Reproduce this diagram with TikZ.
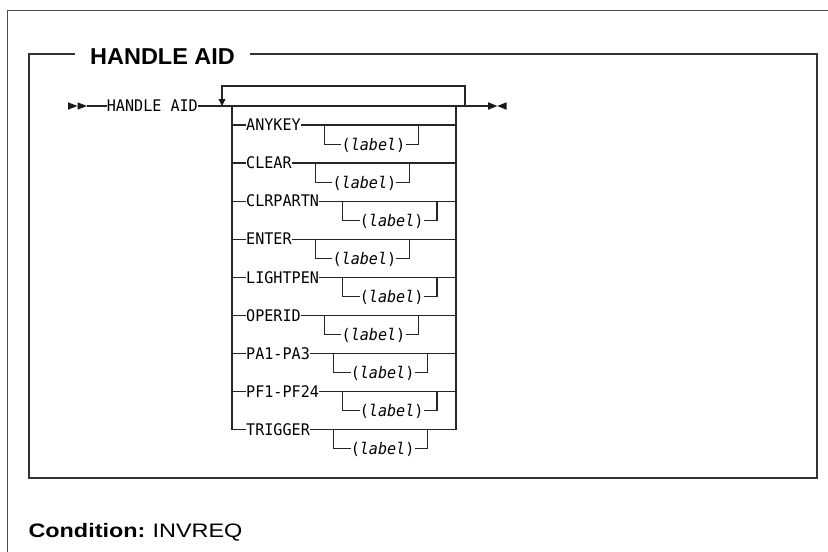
\documentclass[tikz,border=0pt]{standalone}
\usepackage{fontspec}
\setmainfont{Liberation Sans}
\newfontfamily\monofont[FakeStretch=0.944]{DejaVu Sans Mono}
\newfontfamily\titlefont[FakeStretch=1.02]{Liberation Sans}
\newfontfamily\condfont[FakeStretch=1.2]{Liberation Sans}
\usetikzlibrary{calc}
\begin{document}
\begin{tikzpicture}[x=1pt,y=-1pt,
  kw/.style={font=\monofont\fontsize{16}{17}\selectfont, inner sep=0pt, text height=11.6pt, text depth=0pt},
  rr/.style={line width=1.15pt, draw=black!85},
  tri/.style={fill=black!90},
  outerframe/.style={line width=1.5pt, draw=black!70},
  innerframe/.style={line width=2pt, draw=black!80}]
\clip (0,0) rectangle (828,552);
% outer frame
\draw[outerframe] (7.3,560) -- (7.3,10.7) -- (840,10.7);
% title and inner box
\node[anchor=base west, inner sep=0pt, font=\titlefont\bfseries\fontsize{23}{26}\selectfont] (title) at (90,64) {HANDLE AID};
\coordinate (tl) at (75,54);
\coordinate (tr) at (250,54);
\draw[innerframe] (tl) -- (28.5,54) -- (28.5,478) -- (816.7,478) -- (816.7,54) -- (tr);
% condition
\node[anchor=base west, inner sep=0pt, font=\fontsize{19.5}{22}\selectfont] (cond) at (28.3,537.3) {{\condfont\bfseries Condition:} {\condfont INVREQ}};
% start marks
\coordinate (s1) at (87,106);
\fill[tri] (68,102.3) -- (77.5,106) -- (68,109.7) -- cycle;
\fill[tri] (77.5,102.3) -- (87,106) -- (77.5,109.7) -- cycle;
\node[kw, anchor=west] (hdl) at (106.7,106) {HANDLE AID};
\coordinate (e0) at (488,106);
\draw[rr] (s1) -- (hdl.west);
\draw[rr] (hdl.east) -- (e0);
\fill[tri] (488,102.2) -- (497.3,106) -- (488,109.8) -- cycle;
\fill[tri] (506.7,102.2) -- (497.3,106) -- (506.7,109.8) -- cycle;
% repeat loop
\coordinate (lpR) at (465,106);
\coordinate (lpL) at (222,86);
\coordinate (lpA) at (222,99.3);
\draw[rr] (lpR) |- (lpL) -- (lpA);
\fill[tri] (218.4,99) -- (225.6,99) -- (222,106) -- cycle;
% stack
\foreach \t [count=\i from 0] in {ANYKEY,CLEAR,CLRPARTN,ENTER,LIGHTPEN,OPERID,PA1-PA3,PF1-PF24,TRIGGER}{
  \pgfmathsetmacro\yy{125+38.05*\i}
  \node[kw, anchor=west] (k\i) at (246,\yy) {\t};
  \draw[rr] (232,\yy) -- (k\i.west);
  \draw[rr] (k\i.east) -- (456,\yy);
  \coordinate (bl\i) at ($(k\i.east)+(23.5,0)$);
  \coordinate (br\i) at ($(bl\i)+(94.3,0)$);
  \node[kw, anchor=west] (l\i) at ($(bl\i)+(17,19.2)$) {({\itshape label})};
  \draw[rr] (bl\i) |- (l\i.west);
  \draw[rr] (l\i.east) -| (br\i);
}
\coordinate (vL) at (232,106);
\coordinate (vR) at (456,106);
\draw[rr] (vL) |- (k8.west);
\draw[rr] (vR) |- (k8.east);
\end{tikzpicture}
\end{document}
